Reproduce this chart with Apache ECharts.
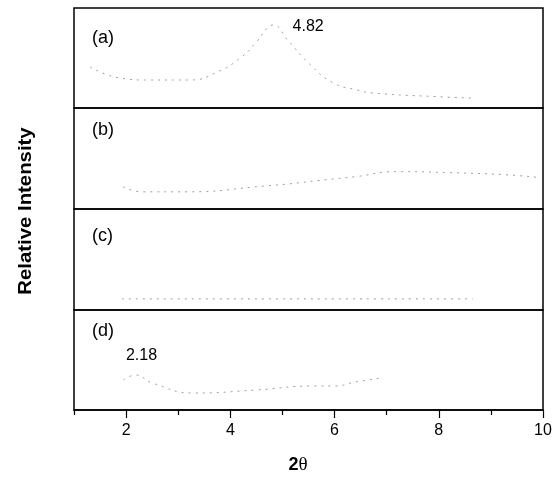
<!DOCTYPE html>
<html>
<head>
<meta charset="utf-8">
<script src="https://cdn.jsdelivr.net/npm/echarts@6/dist/echarts.min.js"></script>
<style>
  html, body { margin: 0; padding: 0; background: #fff; }
  #chart { width: 560px; height: 481px; }
</style>
</head>
<body>
<div id="chart"></div>
<script>
// Diffraction patterns, 2θ in degrees vs. relative intensity (arbitrary units)
const twoThetaA = [1.31, 1.88, 2.42, 3.23, 3.75, 4.19, 4.50, 4.71, 4.82, 5.10, 5.50, 5.98, 6.44, 6.73, 8.10, 8.62];
const intensityA = [41, 30, 28, 28, 36, 50, 66, 80, 83, 68, 45, 25, 18, 15, 11, 10];

const twoThetaB = [1.94, 2.31, 3.17, 4.71, 5.15, 5.83, 6.40, 7.17, 8.19, 9.25, 9.96];
const intensityB = [22, 17, 17, 23, 25, 29, 32, 37, 36, 34, 31];

const twoThetaC = [1.92, 4.43, 4.65, 6.31, 6.88, 7.21, 7.46, 7.81, 8.10, 8.65];
const intensityC = [11, 11, 11, 11, 11, 11, 11, 11, 11, 11];

const twoThetaD = [1.95, 2.18, 2.50, 3.30, 4.50, 5.60, 6.00, 6.40, 6.90];
const intensityD = [30, 35, 27, 17, 20, 24, 24, 28, 32];

const panelLabels = ['(a)', '(b)', '(c)', '(d)'];
const peakA = 4.82;
const peakD = 2.18;

const majorTicks = [2, 4, 6, 8, 10];
const minorTicks = [1, 3, 5, 7, 9];

const font = '"Liberation Sans", Arial, sans-serif';

function pairs(xs, ys, peak, label) {
  return xs.map((x, i) => {
    if (x === peak) {
      return { value: [x, ys[i]], label: label };
    }
    return [x, ys[i]];
  });
}

const panels = [
  { top: 8, height: 100, labelY: 38, data: pairs(twoThetaA, intensityA, peakA, {
      show: true, formatter: String(peakA), position: 'right', distance: 19, offset: [0, 2],
      fontFamily: font, fontSize: 16, color: '#000' }) },
  { top: 108, height: 101, labelY: 130, data: pairs(twoThetaB, intensityB) },
  { top: 209, height: 101, labelY: 236, data: pairs(twoThetaC, intensityC) },
  { top: 310, height: 100, labelY: 331, data: pairs(twoThetaD, intensityD, peakD, {
      show: true, formatter: String(peakD), position: 'top', distance: 11, offset: [6, 0],
      fontFamily: font, fontSize: 16, color: '#000' }) }
];

const grids = [], xAxes = [], yAxes = [], series = [];

panels.forEach((p, i) => {
  const last = i === panels.length - 1;
  grids.push({
    left: 74, right: 17, top: p.top, height: p.height,
    show: true, borderColor: '#000', borderWidth: 1.5, backgroundColor: 'transparent'
  });
  xAxes.push({
    type: 'value', gridIndex: i, min: 1, max: 10, interval: 1,
    axisLine: { show: last, lineStyle: { color: '#000', width: 1.5 } },
    axisTick: { show: last, length: 8, lineStyle: { color: '#000', width: 1.2 }, customValues: majorTicks },
    axisLabel: { show: last, customValues: majorTicks, color: '#000', fontFamily: font, fontSize: 16, margin: 13 },
    splitLine: { show: false }
  });
  yAxes.push({
    type: 'value', gridIndex: i, min: 0, max: 100,
    show: false, splitLine: { show: false }
  });
  series.push({
    type: 'line', xAxisIndex: i, yAxisIndex: i,
    data: p.data, smooth: true,
    showSymbol: true, symbol: 'circle', symbolSize: 1,
    itemStyle: { color: 'rgba(0,0,0,0)' },
    lineStyle: { color: '#a0a0a0', width: 1, type: [2, 5] },
    label: { show: false },
    emphasis: { disabled: true },
    animation: false
  });
});

// minor ticks on the bottom panel (odd degrees)
xAxes.push({
  type: 'value', gridIndex: 3, min: 1, max: 10, interval: 1, position: 'bottom',
  axisLine: { show: false },
  axisTick: { show: true, length: 5, lineStyle: { color: '#000', width: 1.2 }, customValues: minorTicks },
  axisLabel: { show: false },
  splitLine: { show: false }
});

const graphics = panelLabels.map((t, i) => ({
  type: 'text',
  x: 92,
  y: panels[i].labelY,
  style: { text: t, font: '18px ' + font, fill: '#000', verticalAlign: 'middle' }
}));

// vertical axis title
graphics.push({
  type: 'text',
  x: 26, y: 211,
  rotation: Math.PI / 2,
  scaleX: 1.13,
  style: {
    text: 'Relative Intensity',
    font: 'bold 18px ' + font,
    fill: '#000',
    align: 'center',
    verticalAlign: 'middle'
  }
});

// horizontal axis title: 2θ
graphics.push({
  type: 'text',
  x: 298, y: 465,
  style: {
    text: '{b|2}{t|θ}',
    align: 'center',
    verticalAlign: 'middle',
    rich: {
      b: { fontFamily: font, fontWeight: 'bold', fontSize: 18, fill: '#000' },
      t: { fontFamily: '"Liberation Serif", serif', fontSize: 19, fill: '#000' }
    }
  }
});

const chart = echarts.init(document.getElementById('chart'), null, { renderer: 'canvas' });
chart.setOption({
  backgroundColor: '#fff',
  animation: false,
  grid: grids,
  xAxis: xAxes,
  yAxis: yAxes,
  series: series,
  graphic: graphics
});
</script>
</body>
</html>
